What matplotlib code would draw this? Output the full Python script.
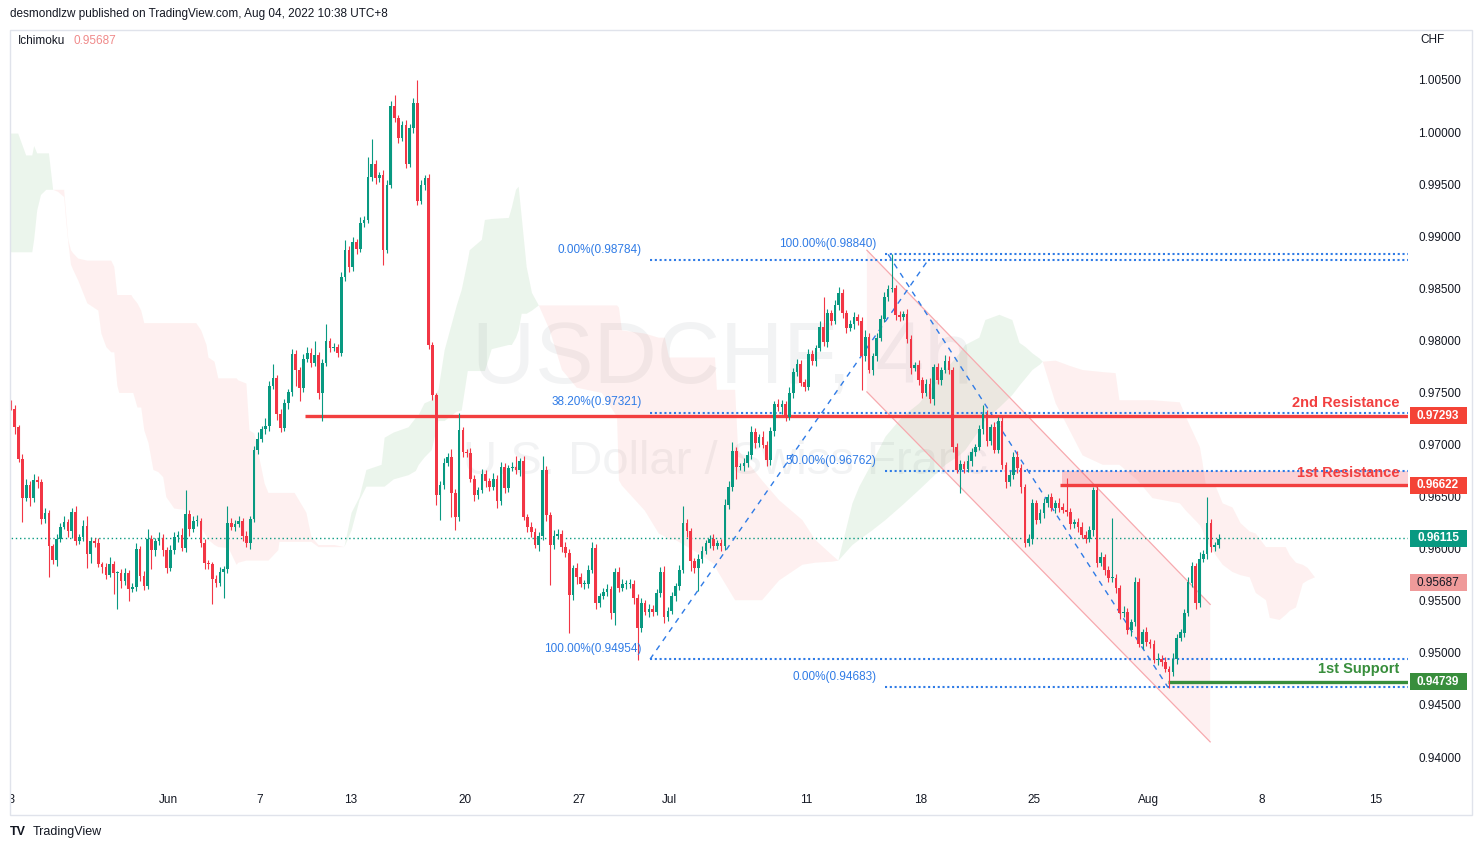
import numpy as np
import matplotlib
matplotlib.use("Agg")
import matplotlib.pyplot as plt
import matplotlib.transforms as mtransforms
from matplotlib.patches import Rectangle, Polygon

plt.rcParams['font.family'] = ['Liberation Sans', 'DejaVu Sans']

# ---- candles, prices in pips (0.0001) ----
first_open = 9742
close_pips = [
    9736, 9718, 9688, 9650, 9663, 9650, 9667, 9665, 9630, 9636,
    9604, 9591, 9611, 9622, 9627, 9618, 9637, 9609, 9613, 9623,
    9596, 9609, 9607, 9587, 9584, 9576, 9587, 9578, 9578, 9570,
    9578, 9563, 9565, 9601, 9575, 9566, 9611, 9600, 9609, 9612,
    9600, 9583, 9600, 9613, 9615, 9602, 9635, 9620, 9628, 9628,
    9607, 9588, 9587, 9572, 9569, 9579, 9582, 9626, 9622, 9625,
    9628, 9614, 9607, 9630, 9696, 9707, 9716, 9719, 9758, 9765,
    9731, 9717, 9741, 9752, 9788, 9773, 9756, 9784, 9789, 9780,
    9787, 9751, 9780, 9801, 9794, 9795, 9789, 9862, 9888, 9872,
    9896, 9889, 9914, 9917, 9958, 9971, 9957, 9960, 9888, 9951,
    10026, 10015, 9996, 10008, 9971, 10005, 10029, 9935, 9951, 9957,
    9797, 9749, 9653, 9663, 9684, 9689, 9655, 9632, 9715, 9694,
    9693, 9668, 9653, 9658, 9673, 9666, 9661, 9668, 9647, 9680,
    9660, 9679, 9680, 9677, 9686, 9632, 9622, 9617, 9605, 9614,
    9677, 9634, 9605, 9614, 9616, 9603, 9597, 9557, 9583, 9574,
    9568, 9568, 9581, 9602, 9549, 9556, 9560, 9563, 9540, 9579,
    9564, 9568, 9568, 9568, 9554, 9525, 9549, 9541, 9544, 9541,
    9559, 9579, 9536, 9542, 9556, 9566, 9581, 9626, 9618, 9590,
    9583, 9592, 9599, 9607, 9611, 9604, 9607, 9604, 9643, 9661,
    9695, 9680, 9681, 9684, 9691, 9713, 9703, 9709, 9701, 9687,
    9714, 9740, 9737, 9740, 9728, 9751, 9771, 9779, 9761, 9757,
    9788, 9782, 9794, 9814, 9800, 9828, 9820, 9835, 9847, 9828,
    9813, 9817, 9824, 9820, 9786, 9805, 9773, 9786, 9804, 9822,
    9843, 9851, 9852, 9826, 9824, 9827, 9803, 9775, 9778, 9763,
    9751, 9760, 9745, 9776, 9763, 9773, 9782, 9773, 9699, 9677,
    9683, 9678, 9686, 9694, 9699, 9716, 9731, 9705, 9718, 9696,
    9724, 9682, 9665, 9672, 9689, 9679, 9661, 9607, 9611, 9645,
    9629, 9636, 9645, 9651, 9641, 9645, 9641, 9639, 9637, 9625,
    9627, 9622, 9615, 9611, 9619, 9658, 9588, 9593, 9581, 9573,
    9573, 9564, 9540, 9541, 9523, 9531, 9569, 9510, 9521, 9512,
    9510, 9495, 9496, 9493, 9486, 9483, 9496, 9516, 9521, 9540,
    9569, 9585, 9549, 9592, 9596, 9626, 9603, 9605, 9611,
]
upper_wick = [
    2, 3, 2, 4, 5, 3, 6, 4, 3, 5,
    3, 2, 5, 4, 6, 3, 4, 5, 3, 6,
    10, 4, 3, 5, 2, 4, 6, 3, 2, 4,
    5, 3, 4, 6, 3, 5, 9, 4, 3, 5,
    4, 3, 5, 4, 3, 6, 23, 4, 5, 6,
    3, 4, 3, 2, 4, 5, 3, 16, 5, 4,
    5, 3, 4, 3, 4, 6, 3, 8, 4, 14,
    3, 5, 4, 3, 5, 4, 3, 4, 6, 5,
    14, 3, 4, 16, 3, 4, 3, 5, 10, 4,
    5, 3, 6, 4, 19, 24, 4, 3, 5, 4,
    5, 11, 3, 4, 5, 4, 5, 22, 4, 3,
    4, 3, 2, 3, 5, 4, 8, 4, 17, 3,
    3, 5, 4, 3, 5, 4, 3, 6, 4, 5,
    4, 3, 5, 10, 3, 4, 3, 5, 4, 3,
    13, 4, 3, 5, 4, 3, 5, 4, 3, 5,
    4, 3, 5, 6, 4, 3, 4, 5, 3, 4,
    5, 4, 3, 4, 3, 4, 5, 3, 4, 3,
    4, 5, 6, 3, 4, 3, 5, 16, 4, 3,
    3, 4, 5, 3, 4, 5, 3, 4, 6, 5,
    9, 4, 3, 5, 4, 6, 4, 3, 5, 4,
    4, 3, 5, 4, 3, 6, 4, 5, 4, 3,
    5, 4, 3, 6, 29, 4, 3, 5, 6, 4,
    3, 4, 5, 3, 4, 6, 4, 3, 5, 4,
    5, 4, 32, 3, 4, 3, 5, 4, 3, 5,
    3, 4, 5, 3, 4, 3, 5, 4, 3, 4,
    4, 3, 5, 4, 3, 4, 8, 4, 3, 5,
    4, 5, 3, 4, 5, 6, 4, 3, 5, 4,
    3, 4, 5, 3, 4, 3, 5, 4, 30, 4,
    3, 4, 5, 3, 4, 3, 4, 5, 3, 4,
    58, 4, 3, 5, 4, 3, 5, 4, 3, 5,
    3, 4, 5, 3, 4, 3, 5, 4, 3, 4,
    5, 4, 3, 6, 4, 25, 4, 3, 5,
]
lower_wick = [
    1, 6, 3, 23, 3, 8, 4, 5, 5, 4,
    30, 4, 6, 3, 2, 5, 6, 4, 3, 4,
    13, 8, 4, 3, 6, 4, 2, 20, 34, 6,
    3, 12, 3, 4, 5, 4, 3, 18, 6, 4,
    6, 5, 3, 4, 5, 3, 4, 6, 3, 5,
    4, 6, 5, 24, 4, 3, 25, 4, 3, 4,
    3, 5, 4, 6, 3, 4, 3, 4, 5, 3,
    6, 4, 3, 5, 4, 15, 13, 4, 3, 4,
    3, 6, 27, 3, 4, 3, 4, 3, 4, 5,
    4, 5, 3, 4, 3, 4, 5, 4, 14, 3,
    3, 4, 5, 3, 4, 3, 4, 4, 3, 5,
    4, 5, 10, 24, 4, 3, 23, 13, 4, 5,
    4, 3, 6, 4, 3, 5, 4, 3, 6, 4,
    5, 4, 3, 4, 6, 3, 5, 4, 3, 6,
    4, 6, 38, 4, 3, 5, 4, 36, 5, 6,
    3, 5, 4, 3, 5, 4, 3, 4, 6, 12,
    4, 3, 5, 4, 6, 30, 4, 3, 5, 4,
    3, 4, 6, 4, 3, 5, 4, 3, 5, 10,
    5, 22, 4, 3, 5, 4, 3, 5, 4, 3,
    4, 12, 3, 5, 4, 3, 5, 4, 3, 6,
    5, 4, 3, 6, 4, 3, 5, 4, 3, 4,
    3, 4, 5, 3, 4, 5, 4, 3, 4, 5,
    4, 3, 5, 4, 32, 4, 3, 5, 4, 3,
    3, 4, 3, 5, 4, 3, 4, 6, 3, 4,
    5, 3, 4, 6, 3, 4, 3, 4, 5, 3,
    22, 4, 3, 5, 4, 3, 4, 5, 4, 3,
    3, 4, 5, 3, 4, 5, 6, 4, 3, 5,
    4, 3, 5, 4, 3, 5, 4, 3, 4, 5,
    4, 5, 3, 4, 3, 5, 4, 3, 5, 4,
    4, 5, 6, 4, 3, 5, 4, 3, 5, 4,
    4, 3, 5, 4, 3, 15, 4, 5, 3, 4,
    3, 4, 5, 4, 3, 4, 5, 4, 3,
]

# ---- Ichimoku cloud edges (bar index, pips) ----
cloud_bar = [
    0.0, 1.9, 4.0, 5.6, 6.1, 6.9, 7.9, 9.3, 10.0, 11.1,
    12.4, 14.0, 14.5, 15.1, 15.8, 16.4, 17.7, 20.1, 23.0, 23.8,
    25.1, 26.4, 27.2, 28.0, 28.5, 31.7, 32.2, 33.3, 34.3, 35.1,
    36.2, 37.5, 38.8, 40.1, 40.9, 43.0, 47.0, 48.8, 50.1, 51.5,
    52.0, 53.6, 54.6, 57.3, 59.4, 59.9, 62.0, 62.8, 64.1, 66.8,
    67.8, 70.4, 70.7, 74.7, 77.8, 79.1, 81.0, 85.2,
    87.8, 89.7, 91.8, 93.6, 97.6, 98.4, 100.8, 104.7, 106.6, 107.4,
    108.9, 110.8, 112.6, 114.2, 117.4, 118.7, 120.3, 120.8, 124.0, 124.8,
    126.6, 131.1, 131.9, 133.0, 133.7, 134.5, 135.8, 137.2, 139.0,
    141.9, 145.1, 149.0, 155.6, 159.6, 160.1, 160.9, 166.9, 170.6, 172.2,
    173.3, 174.9, 182.0, 185.4, 185.9, 190.7, 191.5, 197.8, 202.3, 208.4,
    211.8, 216.3, 217.9,
    221.6, 223.4, 226.8, 230.3, 234.7, 239.2, 246.1, 249.8, 251.3, 255.0,
    256.6, 260.3, 263.7, 265.6, 267.2, 269.0, 270.9, 271.7,
    275.1, 278.8, 282.2, 287.5, 290.9, 291.9, 296.7, 300.6, 307.8, 309.4,
    313.1, 313.8, 314.6, 317.3, 319.1, 321.7, 323.8, 326.2, 327.8, 330.5,
    331.5, 334.1, 335.7, 336.8, 338.4, 340.2, 341.5, 343.4,
]
span_a = [
    10000, 10000, 9979, 9979, 9988, 9981, 9981, 9981, 9981, 9946,
    9944, 9939, 9917, 9895, 9874, 9869, 9859, 9837, 9830, 9808,
    9795, 9790, 9790, 9758, 9751, 9751, 9751, 9737, 9737, 9715,
    9703, 9677, 9675, 9670, 9651, 9640, 9638, 9629, 9622, 9613,
    9610, 9605, 9603, 9602, 9586, 9588, 9590, 9590, 9590, 9590,
    9590, 9600, 9608, 9608, 9608, 9608, 9603, 9603,
    9603, 9636, 9651, 9677, 9682, 9708, 9713, 9718, 9727, 9730,
    9741, 9744, 9754, 9792, 9835, 9850, 9878, 9888, 9898, 9917,
    9918, 9919, 9929, 9946, 9949, 9920, 9872, 9847, 9835,
    9811, 9773, 9756, 9751, 9728, 9667, 9662, 9638, 9616, 9613,
    9610, 9610, 9595, 9586, 9581, 9552, 9552, 9552, 9571, 9586,
    9588, 9589, 9590,
    9645, 9661, 9684, 9709, 9728, 9741, 9773, 9789, 9797, 9804,
    9821, 9826, 9821, 9799, 9795, 9789, 9784, 9781,
    9741, 9715, 9691, 9682, 9682, 9682, 9667, 9650, 9645, 9638,
    9624, 9619, 9610, 9595, 9586, 9579, 9576, 9574, 9559, 9552,
    9535, 9533, 9538, 9542, 9545, 9568, 9571, 9574,
]
span_b = [
    9886, 9886, 9886, 9886, 9898, 9926, 9941, 9946, 9946, 9946,
    9946, 9946, 9924, 9898, 9888, 9885, 9880, 9878, 9878, 9878,
    9878, 9878, 9872, 9845, 9845, 9845, 9842, 9837, 9830, 9818,
    9818, 9818, 9818, 9818, 9818, 9818, 9818, 9818, 9811, 9797,
    9785, 9781, 9765, 9765, 9765, 9763, 9760, 9715, 9712, 9664,
    9655, 9655, 9655, 9655, 9636, 9613, 9605, 9605,
    9603, 9619, 9648, 9661, 9661, 9661, 9668, 9672, 9676, 9682,
    9689, 9696, 9724, 9724, 9733, 9734, 9772, 9772, 9772, 9772,
    9793, 9797, 9797, 9804, 9811, 9827, 9827, 9830, 9835,
    9835, 9835, 9835, 9835, 9835, 9833, 9811, 9808, 9804, 9804,
    9785, 9785, 9785, 9785, 9754, 9754, 9696, 9667, 9648, 9629,
    9610, 9595, 9590,
    9605, 9610, 9619, 9629, 9643, 9658, 9682, 9691, 9696, 9715,
    9725, 9737, 9749, 9758, 9765, 9773, 9778, 9781,
    9782, 9777, 9773, 9771, 9770, 9744, 9744, 9744, 9742, 9728,
    9699, 9684, 9664, 9661, 9645, 9641, 9626, 9618, 9616, 9603,
    9603, 9603, 9603, 9595, 9588, 9586, 9583, 9574,
]

# ---- drawings ----
fib1_start = 168.3
fib1_anchor = [(168.3, 0.94954), (241.5, 0.98784)]
fib1_labels = ["0.00%", "38.20%", "100.00%"]
fib1_levels = [0.98784, 0.97321, 0.94954]
fib2_start = 230.2
fib2_anchor = [(231.0, 0.98840), (304.7, 0.94683)]
fib2_labels = ["100.00%", "50.00%", "0.00%"]
fib2_levels = [0.98840, 0.96762, 0.94683]
channel_bars = [225.4, 315.8]
channel_top = [0.9888, 0.9548]
channel_bottom = [0.9752, 0.9416]
res2, res2_start = 0.97293, 77.4
res1, res1_start = 0.96622, 276.3
res1_zone_top = 0.96762
sup1, sup1_start = 0.94739, 304.7
last_price = 0.96115
ichimoku_value = 0.95687

price_ticks = [1.005, 1.0, 0.995, 0.99, 0.985, 0.98, 0.975, 0.97, 0.965,
               0.96, 0.955, 0.95, 0.945, 0.94]
date_days = [0, 7, 11, 15, 20, 25, 29, 35, 40, 45, 50, 55, 60]
date_labels = ["23", "Jun", "7", "13", "20", "27", "Jul", "11", "18", "25",
               "Aug", "8", "15"]

UP, DOWN = "#089981", "#f23645"
BLUE = "#2f7be6"
RED = "#f23f3f"
TXT = "#131722"

closes = np.array(close_pips) / 10000
opens = np.concatenate([[first_open / 10000], closes[:-1]])
highs = np.maximum(opens, closes) + np.array(upper_wick) / 10000
lows = np.minimum(opens, closes) - np.array(lower_wick) / 10000
bars = np.arange(len(closes))

W, H = 1483, 850
fig = plt.figure(figsize=(W / 100, H / 100), dpi=100)
ax = fig.add_axes([10 / W, 35 / H, 1398 / W, 785 / H])
XMAX = 367.9
ax.set_xlim(-0.26, XMAX)
ax.set_ylim(0.93458, 1.00994)
ax.axis("off")
bl = mtransforms.blended_transform_factory(ax.transAxes, ax.transData)
bx = mtransforms.blended_transform_factory(ax.transData, ax.transAxes)

# watermark
ax.text(722 / W, 1 - 360 / H, "USDCHF, 4h", transform=fig.transFigure,
        ha="center", va="center", fontsize=63, color="#787b86", alpha=0.09, zorder=0.5)
ax.text(725 / W, 1 - 462 / H, "U.S. Dollar / Swiss Franc", transform=fig.transFigure,
        ha="center", va="center", fontsize=34, color="#787b86", alpha=0.09, zorder=0.5)

# cloud
cx = np.array(cloud_bar)
sa = np.array(span_a) / 10000
sb = np.array(span_b) / 10000
ax.fill_between(cx, sa, sb, where=sa >= sb, interpolate=True,
                color="#43a047", alpha=0.1, lw=0, zorder=1)
ax.fill_between(cx, sa, sb, where=sa <= sb, interpolate=True,
                color="#f44336", alpha=0.075, lw=0, zorder=1)

# channel
ax.add_patch(Polygon([(channel_bars[0], channel_top[0]), (channel_bars[1], channel_top[1]),
                      (channel_bars[1], channel_bottom[1]), (channel_bars[0], channel_bottom[0])],
                     closed=True, fc="#f23645", alpha=0.07, ec="none", zorder=1.5))
ax.plot(channel_bars, channel_top, color="#f7a9ae", lw=0.9, zorder=1.6)
ax.plot(channel_bars, channel_bottom, color="#f7a9ae", lw=0.9, zorder=1.6)

# resistance zone + lines
ax.add_patch(Rectangle((res1_start + 0.5, res1), XMAX - res1_start, res1_zone_top - res1,
                       fc="#f23645", alpha=0.22, ec="none", zorder=1.7))
ax.plot([res2_start, XMAX], [res2, res2], color=RED, lw=2.4, zorder=3, solid_capstyle="butt")
ax.plot([res1_start, XMAX], [res1, res1], color=RED, lw=2.4, zorder=3, solid_capstyle="butt")
ax.plot([sup1_start, XMAX], [sup1, sup1], color="#388e3c", lw=2.4, zorder=3, solid_capstyle="butt")

# last price line
ax.plot([-1, XMAX], [last_price, last_price], color=UP, lw=1, ls=(0, (1, 2)), zorder=2)

# fibonacci retracements
dot = (0, (1, 1.3))
for start, anchor, labels, levels in [(fib1_start, fib1_anchor, fib1_labels, fib1_levels),
                                      (fib2_start, fib2_anchor, fib2_labels, fib2_levels)]:
    for lab, lvl in zip(labels, levels):
        ax.plot([start, XMAX], [lvl, lvl], color=BLUE, lw=1.5, ls=dot, zorder=2.5)
        ax.annotate(f"{lab}({lvl:.5f})", xy=(start, lvl), xytext=(-6, 3),
                    textcoords="offset points", ha="right", va="bottom",
                    fontsize=8.5, color=BLUE, zorder=6)
    (x0, y0), (x1, y1) = anchor
    ax.plot([x0, x1], [y0, y1], color=BLUE, lw=1, ls=(0, (4, 4)), zorder=2.5)

# candles
cols = np.where(closes >= opens, UP, DOWN)
ax.vlines(bars, lows, highs, colors=cols, lw=0.8, zorder=4)
ax.bar(bars, np.maximum(np.abs(closes - opens), 0.00008), bottom=np.minimum(opens, closes),
       width=0.7, color=cols, lw=0, zorder=4)

# level captions
for txt, lvl, c in [("2nd Resistance", res2, RED), ("1st Resistance", res1, RED),
                    ("1st Support", sup1, "#388e3c")]:
    ax.annotate(txt, xy=(XMAX, lvl), xytext=(-6, 4), textcoords="offset points",
                ha="right", va="bottom", fontsize=10.5, fontweight="bold", color=c, zorder=6)

# price scale
for p in price_ticks:
    ax.text((1461 - 10) / 1398, p, f"{p:.5f}", transform=bl, ha="right", va="center",
            fontsize=8.5, color=TXT, zorder=3)
ax.text((1420 - 10) / 1398, 0.987, "CHF", transform=ax.transAxes, ha="left",
        va="center", fontsize=8.5, color=TXT)
box_h = 17 * 0.000096
for p, fc, tc in [(res2, "#f44336", "white"), (res1, "#f44336", "white"),
                  (last_price, UP, "white"), (ichimoku_value, "#ef9a9a", TXT),
                  (sup1, "#388e3c", "white")]:
    ax.add_patch(Rectangle(((1410 - 10) / 1398, p - box_h / 2), 57 / 1398, box_h,
                           transform=bl, fc=fc, ec="none", clip_on=False, zorder=5))
    ax.text((1438 - 10) / 1398, p, f"{p:.5f}", transform=bl, ha="center", va="center",
            fontsize=8.5, color=tc, fontweight="bold" if tc == "white" else "normal", zorder=6)

# time scale
for d, lab in zip(date_days, date_labels):
    ax.text(6 * d - 0.5, 15 / 785, lab, transform=bx, ha="center", va="center",
            fontsize=8.5, color=TXT, clip_on=True)

# frame and header/footer
fig.add_artist(Rectangle((10 / W, 35 / H), 1462 / W, 785 / H, transform=fig.transFigure,
                         fill=False, ec="#e0e3eb", lw=1))
fig.text(10 / W, 1 - 14 / H, "desmondlzw published on TradingView.com, Aug 04, 2022 10:38 UTC+8",
         ha="left", va="center", fontsize=8.5, color=TXT)
fig.text(18 / W, 1 - 41 / H, "Ichimoku", ha="left", va="center", fontsize=8.5, color=TXT)
fig.text(74 / W, 1 - 41 / H, f"{ichimoku_value:.5f}", ha="left", va="center",
         fontsize=8.5, color="#f08a8a")
fig.text(10 / W, 1 - 832 / H, "TV", ha="left", va="center", fontsize=9,
         fontweight="bold", color=TXT)
fig.text(33 / W, 1 - 832 / H, "TradingView", ha="left", va="center", fontsize=9, color=TXT)

fig.savefig("out.png", dpi=100)
